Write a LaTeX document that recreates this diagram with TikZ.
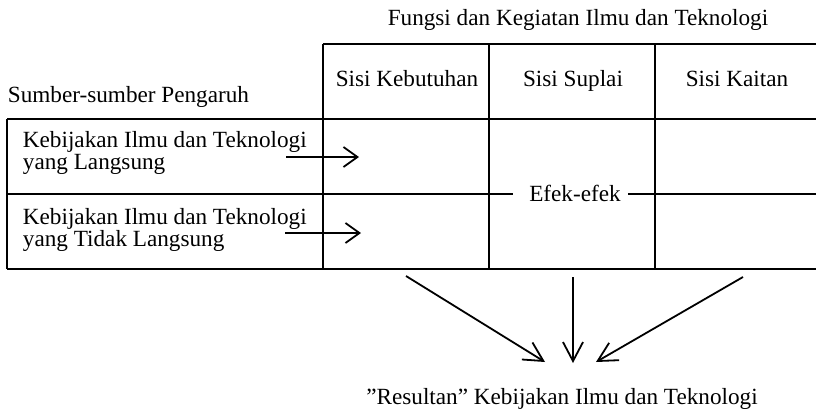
\documentclass[tikz,border=0pt]{standalone}
\usepackage{fontspec}
\setmainfont{Liberation Serif}
\usetikzlibrary{arrows.meta,positioning,calc}

\begin{document}
\begin{tikzpicture}[
      x=1pt,y=-1pt,line width=1.8pt,
      every node/.style = {font=\fontsize{23.2}{22.5}\selectfont,inner sep=0pt},
      label/.style = {anchor=base},
      source/.style = {align=left,anchor=west},
      arrowS/.style = {-{Straight Barb[length=14pt,width=20pt]}},
      arrowL/.style = {-{Straight Barb[length=19pt,width=20pt]}}
      ]
      \useasboundingbox (0,0) rectangle (816,410);
      % texts
      \node (fungsi)[label] at (578,25) {Fungsi dan Kegiatan Ilmu dan Teknologi};
      \node (sumber)[label,anchor=base west] at (7,102) {Sumber-sumber Pengaruh};
      \node (kebutuhan)[label] at (407,86) {Sisi Kebutuhan};
      \node (suplai)[label] at (573,86) {Sisi Suplai};
      \node (kaitan)[label] at (737,86) {Sisi Kaitan};
      \node (langsung)[source] at (22,153) {Kebijakan Ilmu dan Teknologi\\yang Langsung};
      \node (tidak)[source] at (22,230) {Kebijakan Ilmu dan Teknologi\\yang Tidak Langsung};
      \node (efek)[label] at (575,201) {Efek-efek};
      \node (resultan)[label] at (562,404) {''Resultan'' Kebijakan Ilmu dan Teknologi};

      % table
      \draw (323,44) -- (816,44);
      \draw (7,119) -- (816,119);
      \draw (7,269) -- (816,269);
      \draw (7,119) -- (7,269);
      \draw (323,44) -- (323,269);
      \draw (489,44) -- (489,269);
      \draw (655,44) -- (655,269);
      \draw (7,194) -- (513,194);
      \draw (628,194) -- (816,194);

      % arrows
      \coordinate (inA) at (286,157);
      \coordinate (inB) at (359,157);
      \coordinate (inC) at (285,233);
      \coordinate (inD) at (361,233);
      \draw[arrowS] (inA) -- (inB);
      \draw[arrowS] (inC) -- (inD);

      \coordinate (fromL) at (406,276);
      \coordinate (fromM) at (573,277);
      \coordinate (fromR) at (743,277);
      \coordinate (toL) at (545,362);
      \coordinate (toM) at (573,363);
      \coordinate (toR) at (596,362);
      \draw[arrowL] (fromL) -- (toL);
      \draw[arrowL] (fromM) -- (toM);
      \draw[arrowL] (fromR) -- (toR);
    \end{tikzpicture}
\end{document}
